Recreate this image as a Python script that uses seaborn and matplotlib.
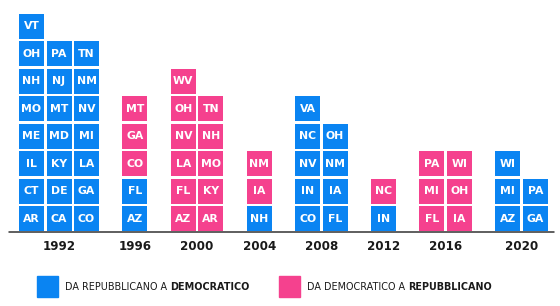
import seaborn as sns
import matplotlib.pyplot as plt
from matplotlib.patches import Rectangle
import pandas as pd

# states that changed party, per election (alphabetical by state name)
years = ["1992", "1996", "2000", "2004", "2008", "2012", "2016", "2020"]
n_cols = [3, 1, 2, 1, 2, 1, 2, 2]

states_1992 = ["AR", "CA", "CO", "CT", "DE", "GA", "IL", "KY", "LA", "ME", "MD",
               "MI", "MO", "MT", "NV", "NH", "NJ", "NM", "OH", "PA", "TN", "VT"]
dir_1992 = ["D"] * 22
states_1996 = ["AZ", "FL", "CO", "GA", "MT"]
dir_1996 = ["D", "D", "R", "R", "R"]
states_2000 = ["AZ", "AR", "FL", "KY", "LA", "MO", "NV", "NH", "OH", "TN", "WV"]
dir_2000 = ["R"] * 11
states_2004 = ["NH", "IA", "NM"]
dir_2004 = ["D", "R", "R"]
states_2008 = ["CO", "FL", "IN", "IA", "NV", "NM", "NC", "OH", "VA"]
dir_2008 = ["D"] * 9
states_2012 = ["IN", "NC"]
dir_2012 = ["D", "R"]
states_2016 = ["FL", "IA", "MI", "OH", "PA", "WI"]
dir_2016 = ["R"] * 6
states_2020 = ["AZ", "GA", "MI", "PA", "WI"]
dir_2020 = ["D"] * 5

all_states = [states_1992, states_1996, states_2000, states_2004,
              states_2008, states_2012, states_2016, states_2020]
all_dirs = [dir_1992, dir_1996, dir_2000, dir_2004,
            dir_2008, dir_2012, dir_2016, dir_2020]

BLUE = "#0a84f2"
PINK = "#f5418e"
GAP = 0.76  # space between election groups, in cell units

rows = []
centers = []
start = 0.0
for yr, nc, sts, dirs in zip(years, n_cols, all_states, all_dirs):
    for i, (st, d) in enumerate(zip(sts, dirs)):
        rows.append({"year": yr, "state": st, "dir": d,
                     "x": start + i % nc, "y": i // nc})
    centers.append(start + (nc - 1) / 2)
    start += nc + GAP
df = pd.DataFrame(rows)

sns.set_theme(style="white")
plt.rcParams["font.family"] = ["DejaVu Sans"]

fig = plt.figure(figsize=(5.6, 3.06), dpi=100)
ax = fig.add_axes([0, 0, 1, 1])

sns.scatterplot(data=df, x="x", y="y", hue="dir", palette={"D": BLUE, "R": PINK},
                marker="s", s=324, linewidth=0, legend=False, ax=ax)

for _, r in df.iterrows():
    ax.text(r["x"], r["y"] - 0.01, r["state"], color="white", fontsize=7.8,
            fontweight="bold", ha="center", va="center")

for c, yr in zip(centers, years):
    ax.text(c, -1.02, yr, color="#1a1a1a", fontsize=8.6, fontweight="bold",
            ha="center", va="center")

ax.plot([-0.82, 19.0], [-0.49, -0.49], color="#333333", lw=1.1)

ax.set_xlim(-31.5 / 27.5, (560 - 31.5) / 27.5)
ax.set_ylim(-(306 - 218.5) / 27.5, 218.5 / 27.5)
ax.axis("off")

# legend
def legend_item(x0, color, normal, bold):
    fig.patches.append(Rectangle((x0 / 560, 1 - 297 / 306), 21 / 560, 21 / 306,
                                 transform=fig.transFigure, color=color))
    t = fig.text((x0 + 28) / 560, 1 - 287 / 306, normal, fontsize=6.9,
                 color="#1a1a1a", va="center", ha="left")
    fig.canvas.draw()
    ax.annotate(bold, xy=(1, 0.5), xycoords=t, fontsize=6.9, fontweight="bold",
                color="#1a1a1a", va="center", ha="left")

legend_item(37, BLUE, "DA REPUBBLICANO A ", "DEMOCRATICO")
legend_item(279, PINK, "DA DEMOCRATICO A ", "REPUBBLICANO")

plt.savefig("out.png", dpi=100)
